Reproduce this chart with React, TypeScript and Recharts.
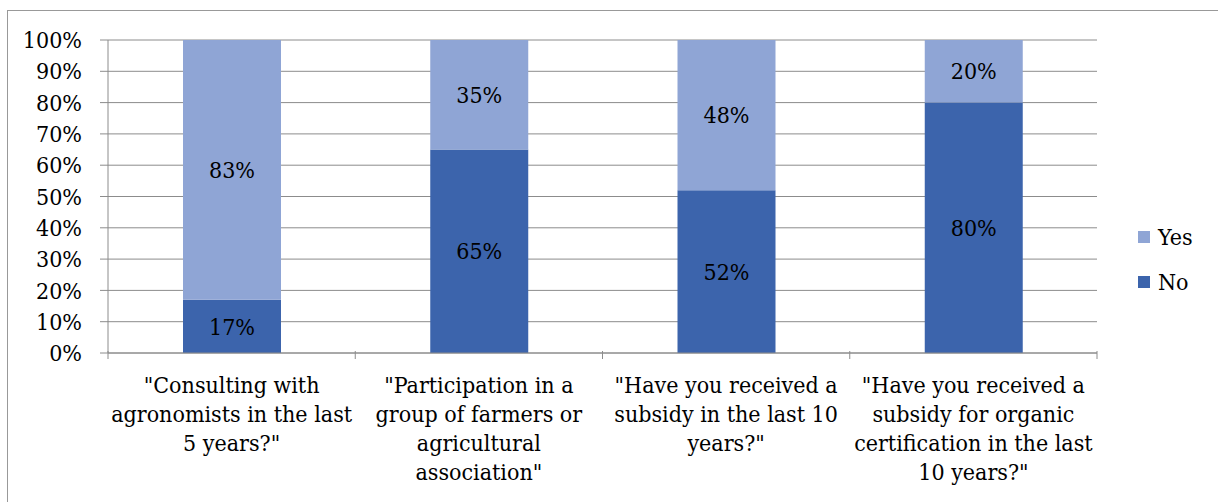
import React from "react";
import { BarChart, Bar, XAxis, YAxis, CartesianGrid, LabelList } from "recharts";

const categoryLines: string[][] = [
  ["\"Consulting with", "agronomists in the last", "5 years?\""],
  ["\"Participation in a", "group of farmers or", "agricultural", "association\""],
  ["\"Have you received a", "subsidy in the last 10", "years?\""],
  ["\"Have you received a", "subsidy for organic", "certification in the last", "10 years?\""],
];
const categories = ["c1", "c2", "c3", "c4"];
const noValues = [17, 65, 52, 80];
const yesValues = [83, 35, 48, 20];
const yTicks = [0, 10, 20, 30, 40, 50, 60, 70, 80, 90, 100];
const legendItems = ["Yes", "No"];

const data = categories.map((c, i) => ({ cat: c, No: noValues[i], Yes: yesValues[i] }));

const FONT = "DejaVu Serif Condensed, DejaVu Serif";
const FS = 23;
const textStyle = { fontFamily: FONT, fontStretch: "condensed" as const };
const YES_COLOR = "#8FA5D5";
const NO_COLOR = "#3C64AC";
const GRID = "#8C8C8C";
const colorOf: Record<string, string> = { Yes: YES_COLOR, No: NO_COLOR };

const XTick = (props: any) => {
  const { x, y, payload, index } = props;
  const i = categories.indexOf(payload.value);
  const lines = categoryLines[i >= 0 ? i : index] || [];
  const off = payload.offset ?? 123.6;
  const axisY = y - 10;
  return (
    <g>
      <line x1={x - off} y1={axisY} x2={x - off} y2={axisY + 8} stroke={GRID} />
      {i === categories.length - 1 && (
        <line x1={x + off} y1={axisY} x2={x + off} y2={axisY + 8} stroke={GRID} />
      )}
      {lines.map((l, k) => (
        <text key={k} x={x} y={axisY + 42 + k * 29} textAnchor="middle" style={textStyle} fontSize={FS} fill="#000">
          {l}
        </text>
      ))}
    </g>
  );
};

export default function App() {
  return (
    <div style={{ position: "fixed", left: 0, top: 0, width: 1218, height: 502, background: "#fff", overflow: "hidden", ...textStyle }}>
      <div style={{ position: "absolute", left: 7, top: 10, width: 1230, height: 520, border: "1px solid #999" }} />
      <div style={{ position: "absolute", left: 0, top: 0 }}>
        <BarChart width={1218} height={502} data={data} margin={{ top: 40, right: 121, left: 8, bottom: 0 }}>
          <CartesianGrid vertical={false} stroke={GRID} strokeWidth={1} />
          <XAxis
            dataKey="cat"
            tickLine={false}
            axisLine={{ stroke: GRID }}
            tick={<XTick />}
            interval={0}
            height={149}
          />
          <YAxis
            width={100}
            domain={[0, 100]}
            ticks={yTicks}
            interval={0}
            tickFormatter={(v: number) => `${v}%`}
            tickSize={8}
            tickMargin={18}
            tickLine={{ stroke: GRID }}
            axisLine={{ stroke: GRID }}
            tick={{ fill: "#000", style: textStyle, fontSize: FS }}
          />
          <Bar dataKey="No" stackId="a" fill={NO_COLOR} barSize={98} isAnimationActive={false}>
            <LabelList dataKey="No" position="center" formatter={(v: any) => `${v}%`} fill="#000" style={textStyle} fontSize={FS} />
          </Bar>
          <Bar dataKey="Yes" stackId="a" fill={YES_COLOR} barSize={98} isAnimationActive={false}>
            <LabelList dataKey="Yes" position="center" formatter={(v: any) => `${v}%`} fill="#000" style={textStyle} fontSize={FS} />
          </Bar>
        </BarChart>
      </div>
      <div style={{ position: "absolute", left: 1138, top: 214, fontSize: FS, color: "#000" }}>
        {legendItems.map((name) => (
          <div key={name} style={{ display: "flex", alignItems: "center", height: 45 }}>
            <span style={{ display: "inline-block", width: 12, height: 12, background: colorOf[name], marginRight: 8 }} />
            <span>{name}</span>
          </div>
        ))}
      </div>
    </div>
  );
}
